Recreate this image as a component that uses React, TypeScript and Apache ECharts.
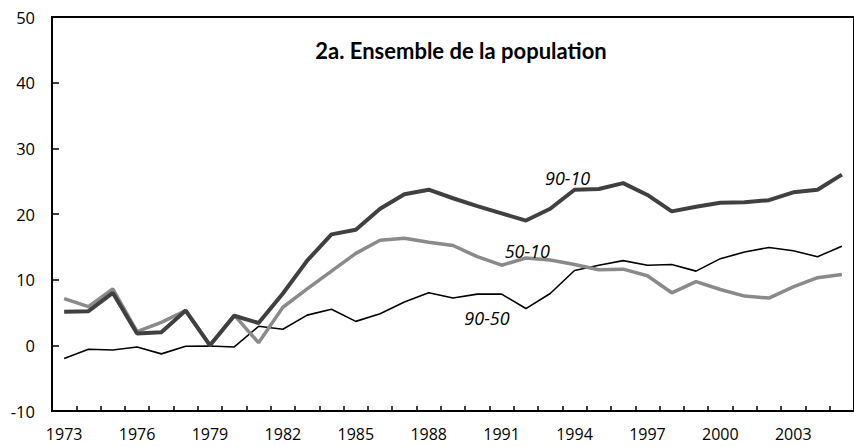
import React, { useEffect, useRef } from "react";
import * as echarts from "echarts";

const years = [
  "1973","1974","1975","1976","1977","1978","1979","1980","1981","1982","1983",
  "1984","1985","1986","1987","1988","1989","1990","1991","1992","1993","1994",
  "1995","1996","1997","1998","1999","2000","2001","2002","2003","2004","2005",
];

const s9010 = [
  5.1, 5.2, 8.0, 1.8, 2.0, 5.3, 0.0, 4.5, 3.4, 7.9, 12.9,
  16.9, 17.6, 20.8, 23.0, 23.7, 22.4, 21.2, 20.1, 19.0, 20.8, 23.7,
  23.8, 24.7, 22.9, 20.4, 21.1, 21.7, 21.8, 22.1, 23.3, 23.7, 26.0,
];

const s5010 = [
  7.1, 5.9, 8.6, 2.1, 3.5, 5.3, 0.0, 4.6, 0.4, 5.8, 8.6,
  11.3, 14.0, 16.0, 16.3, 15.7, 15.2, 13.5, 12.2, 13.3, 13.0, 12.3,
  11.5, 11.6, 10.6, 8.0, 9.7, 8.5, 7.5, 7.2, 8.9, 10.3, 10.8,
];

const s9050 = [
  -2.0, -0.6, -0.7, -0.25, -1.3, -0.15, -0.1, -0.25, 2.9, 2.45, 4.6,
  5.5, 3.65, 4.8, 6.6, 8.0, 7.2, 7.8, 7.8, 5.6, 7.9, 11.4,
  12.2, 12.9, 12.2, 12.3, 11.3, 13.2, 14.2, 14.9, 14.4, 13.5, 15.1,
];

const title = "2a. Ensemble de la population";
const labels = [
  { text: "90-10", year: "1991", value: 25.5, dx: 66 },
  { text: "50-10", year: "1990", value: 14.3, dx: 50 },
  { text: "90-50", year: "1989", value: 4.1, dx: 34 },
];

export default function App() {
  const ref = useRef<HTMLDivElement>(null);
  useEffect(() => {
    if (!ref.current) return;
    const chart = echarts.init(ref.current, null, { renderer: "svg" });
    const font = "'Open Sans', 'Noto Sans', sans-serif";
    chart.setOption({
      animation: false,
      backgroundColor: "#ffffff",
      title: {
        text: title,
        left: 456,
        top: 34,
        textAlign: "center",
        textStyle: {
          fontFamily: "Lato, sans-serif",
          fontSize: 22,
          fontWeight: "bold",
          color: "#000",
        },
      },
      grid: {
        left: 52,
        top: 17,
        bottom: 36,
        right: -8,
        show: true,
        borderColor: "#000",
        borderWidth: 2,
        containLabel: false,
      },
      xAxis: [
        {
          type: "category",
          data: years,
          boundaryGap: true,
          axisLine: { show: true, onZero: false, lineStyle: { color: "#000", width: 2 } },
          axisTick: { show: true, inside: true, length: 5, interval: 0, lineStyle: { color: "#000", width: 1.5 } },
          axisLabel: { interval: 2, margin: 15, fontFamily: font, fontSize: 16, color: "#000" },
          splitLine: { show: false },
        },
        {
          type: "category",
          data: years,
          position: "top",
          boundaryGap: true,
          axisLine: { show: true, onZero: false, lineStyle: { color: "#000", width: 2 } },
          axisTick: { show: false },
          axisLabel: { show: false },
          splitLine: { show: false },
        },
      ],
      yAxis: {
        type: "value",
        min: -10,
        max: 50,
        interval: 10,
        axisLine: { show: true, lineStyle: { color: "#000", width: 2 } },
        axisTick: { show: true, inside: true, length: 7, lineStyle: { color: "#000", width: 1.5 } },
        axisLabel: { margin: 17, fontFamily: font, fontSize: 16.5, color: "#000" },
        splitLine: { show: false },
      },
      series: [
        {
          name: "90-50",
          type: "line",
          data: s9050,
          symbol: "none",
          lineStyle: { color: "#000000", width: 1.6 },
          z: 3,
        },
        {
          name: "50-10",
          type: "line",
          data: s5010,
          symbol: "none",
          lineStyle: { color: "#8a8a8a", width: 3.5 },
          z: 4,
        },
        {
          name: "90-10",
          type: "line",
          data: s9010,
          symbol: "none",
          lineStyle: { color: "#404040", width: 4 },
          z: 5,
          markPoint: {
            symbol: "circle",
            symbolSize: 0,
            silent: true,
            data: labels.map((l) => ({
              coord: [l.year, l.value],
              label: {
                show: true,
                formatter: l.text,
                position: "inside",
                offset: [l.dx, 0],
                fontFamily: font,
                fontStyle: "italic",
                fontSize: 18,
                color: "#000",
              },
            })),
          },
        },
      ],
    });
    return () => chart.dispose();
  }, []);
  return <div ref={ref} style={{ width: 854, height: 447, position: "absolute", left: 0, top: 0 }} />;
}
